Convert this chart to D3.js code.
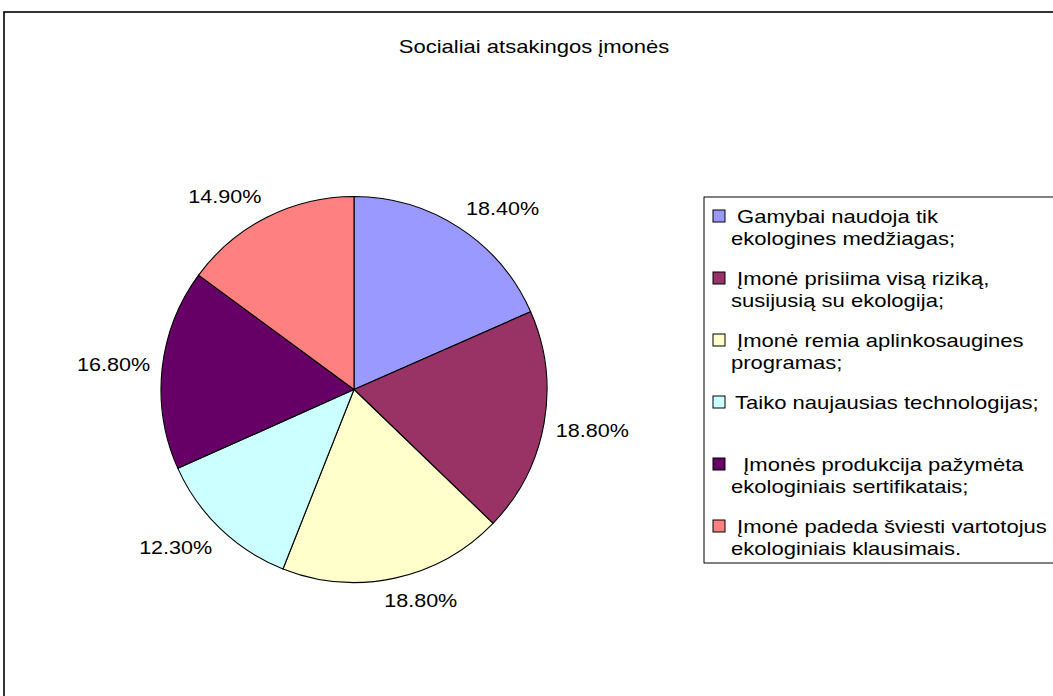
<!DOCTYPE html>
<html>
<head>
<meta charset="utf-8">
<script src="https://cdn.jsdelivr.net/npm/d3@7"></script>
<style>
  html, body { margin: 0; padding: 0; background: #fff; }
  svg { display: block; }
  text { font-family: "Liberation Sans", Arial, sans-serif; fill: #000; white-space: pre; }
</style>
</head>
<body>
<svg id="chart" width="1053" height="696"></svg>
<script>
// Chart content
const title = "Socialiai atsakingos įmonės";
const shares = [18.4, 18.8, 18.8, 12.3, 16.8, 14.9];
const shareLabels = ["18.40%", "18.80%", "18.80%", "12.30%", "16.80%", "14.90%"];
const legendLines = [
  [" Gamybai naudoja tik", "ekologines medžiagas;"],
  [" Įmonė prisiima visą riziką,", "susijusią su ekologija;"],
  [" Įmonė remia aplinkosaugines", "programas;"],
  ["Taiko naujausias technologijas;"],
  ["  Įmonės produkcija pažymėta", "ekologiniais sertifikatais;"],
  [" Įmonė padeda šviesti vartotojus", "ekologiniais klausimais."]
];
const colors = ["#9999FF", "#993366", "#FFFFCC", "#CCFFFF", "#660066", "#FF8080"];

const svg = d3.select("#chart");
const SX = 1.16; // horizontal text stretch

// Outer chart frame
svg.append("rect")
  .attr("x", 4).attr("y", 12)
  .attr("width", 1100).attr("height", 800)
  .attr("fill", "#fff").attr("stroke", "#000").attr("stroke-width", 1.6);

// Title
svg.append("text")
  .attr("transform", `translate(534,52.5) scale(${SX},1)`)
  .attr("text-anchor", "middle")
  .style("font-size", "19px")
  .text(title);

// Pie
const cx = 354, cy = 389.5, R = 193;
const pie = d3.pie().sort(null).value(d => d)(shares);
const arc = d3.arc().innerRadius(0).outerRadius(R);
const g = svg.append("g").attr("transform", `translate(${cx},${cy})`);

g.selectAll("path.slice")
  .data(pie)
  .join("path")
  .attr("class", "slice")
  .attr("d", arc)
  .attr("fill", (d, i) => colors[i])
  .attr("stroke", "#000")
  .attr("stroke-width", 1.1)
  .attr("stroke-linejoin", "round");

// Percentage labels, placed outside each slice
const labelSize = 18.6;
const clamp = v => Math.max(-1, Math.min(1, v));
g.selectAll("text.pct")
  .data(pie)
  .join("text")
  .attr("class", "pct")
  .style("font-size", labelSize + "px")
  .attr("text-anchor", "middle")
  .text((d, i) => shareLabels[i])
  .each(function(d) {
    const a = (d.startAngle + d.endAngle) / 2;
    const w = this.getComputedTextLength() * SX;
    const h = 20;
    const rr = R + 12;
    const px = rr * Math.sin(a), py = -rr * Math.cos(a);
    const sx = clamp(3 * Math.sin(a));
    const sy = clamp(-3 * Math.cos(a));
    const x = px + sx * w / 2;
    const y = py + sy * h / 2 + labelSize * 0.36;
    d3.select(this).attr("transform", `translate(${x},${y}) scale(${SX},1)`);
  });

// Legend
svg.append("rect")
  .attr("x", 704).attr("y", 197)
  .attr("width", 400).attr("height", 366)
  .attr("fill", "#fff").attr("stroke", "#000").attr("stroke-width", 1);

const itemY = d3.scaleLinear().domain([0, 1]).range([223, 285]);
const lineStep = 22;
const items = svg.append("g").selectAll("g.item")
  .data(legendLines)
  .join("g")
  .attr("class", "item");

items.append("rect")
  .attr("x", 713).attr("y", (d, i) => itemY(i) - 13)
  .attr("width", 12).attr("height", 12)
  .attr("fill", (d, i) => colors[i])
  .attr("stroke", "#000").attr("stroke-width", 1);

items.each(function(lines, i) {
  d3.select(this).selectAll("text")
    .data(lines)
    .join("text")
    .style("font-size", "19px")
    .attr("transform", (t, j) => `translate(${lines.length === 1 ? 735 : 731},${itemY(i) + j * lineStep}) scale(${SX},1)`)
    .text(t => t);
});
</script>
</body>
</html>
